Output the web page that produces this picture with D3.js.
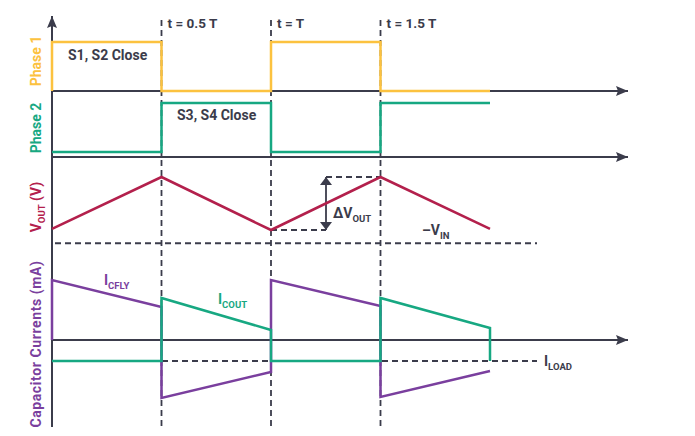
<!DOCTYPE html>
<html>
<head>
<meta charset="utf-8">
<script src="https://cdn.jsdelivr.net/npm/d3@7"></script>
<style>
  body { margin: 0; background: #fff; }
  text { font-family: Roboto, "Noto Sans", sans-serif; font-weight: bold; }
</style>
</head>
<body>
<div id="chart"></div>
<script>
// data (time in units of T)
var switchTimes = [0.5, 1, 1.5];
var switchLabels = ["t = 0.5 T", "t = T", "t = 1.5 T"];

var phase1 = [[0, 0], [0, 1], [0.5, 1], [0.5, 0], [1, 0], [1, 1], [1.5, 1], [1.5, 0], [2, 0]];
var phase2 = [[0, 0], [0.5, 0], [0.5, 1], [1, 1], [1, 0], [1.5, 0], [1.5, 1], [2, 1]];

// output voltage (relative units)
var vout = [[0, 0.02], [0.5, 1], [1, 0], [1.5, 1], [2, 0.02]];
var vinLevel = -0.25;

// capacitor currents (mA, relative)
var iCfly = [[0, 0], [0, 60], [0.5, 33], [0.5, -58], [1, -32], [1, 60], [1.5, 34], [1.5, -57], [2, -31]];
var iCout = [[0, -21], [0.5, -21], [0.5, 42], [1, 10], [1, -21], [1.5, -21], [1.5, 42], [2, 12], [2, -21]];
var iLoad = -21;

var svgWidth = 695;
var svgHeight = 436;

var svg = d3.select("#chart")
  .append("svg")
  .attr("width", svgWidth)
  .attr("height", svgHeight);

var dark = "#3b3c4b";
var yellow = "#fcc23f";
var green = "#17a882";
var red = "#b3204c";
var purple = "#7a3f9e";

// scales
var x = d3.scaleLinear().domain([0, 1]).range([52, 271]);
var yP1 = d3.scaleLinear().domain([0, 1]).range([91, 42]);
var yP2 = d3.scaleLinear().domain([0, 1]).range([152, 103]);
var yV = d3.scaleLinear().domain([0, 1]).range([230, 177]);
var yI = d3.scaleLinear().domain([-100, 100]).range([440, 240]);

var xEnd = x.invert(628);

var defs = svg.append("defs");
defs.append("marker")
  .attr("id", "arrow")
  .attr("viewBox", "0 0 12 10")
  .attr("refX", 12)
  .attr("refY", 5)
  .attr("markerWidth", 12)
  .attr("markerHeight", 10)
  .attr("markerUnits", "userSpaceOnUse")
  .attr("orient", "auto")
  .append("path")
  .attr("d", "M0,0 L12,5 L0,10 L2,5 Z")
  .attr("fill", dark);

// small arrows for delta V
defs.append("marker")
  .attr("id", "arrowS")
  .attr("viewBox", "0 0 8 12")
  .attr("refX", 8)
  .attr("refY", 6)
  .attr("markerWidth", 8)
  .attr("markerHeight", 12)
  .attr("markerUnits", "userSpaceOnUse")
  .attr("orient", "auto-start-reverse")
  .append("path")
  .attr("d", "M0,0 L8,6 L0,12 Z")
  .attr("fill", dark);

var line = function(ys) {
  return d3.line().x(d => x(d[0])).y(d => ys(d[1]));
};

var dash = "6,4";

// dashed switching lines
svg.selectAll(".tline")
  .data(switchTimes)
  .enter()
  .append("line")
  .attr("x1", d => x(d))
  .attr("x2", d => x(d))
  .attr("y1", 20)
  .attr("y2", 430)
  .attr("stroke", dark)
  .attr("stroke-width", 1.8)
  .attr("stroke-dasharray", dash);

svg.selectAll(".tlabel")
  .data(switchTimes)
  .enter()
  .append("text")
  .attr("x", d => x(d) + 6)
  .attr("y", 28)
  .attr("font-size", 13.5)
  .attr("fill", dark)
  .text((d, i) => switchLabels[i]);

// axes
svg.append("line")
  .attr("x1", x(0)).attr("x2", x(0))
  .attr("y1", 427).attr("y2", 16)
  .attr("stroke", dark).attr("stroke-width", 2)
  .attr("marker-end", "url(#arrow)");

[yP1(0), 157, yI(0)].forEach(function(yy) {
  svg.append("line")
    .attr("x1", x(0)).attr("x2", x(xEnd))
    .attr("y1", yy).attr("y2", yy)
    .attr("stroke", dark).attr("stroke-width", 2)
    .attr("marker-end", "url(#arrow)");
});

// reference dashed lines
svg.append("line")
  .attr("x1", 55).attr("x2", 537)
  .attr("y1", yV(vinLevel)).attr("y2", yV(vinLevel))
  .attr("stroke", dark).attr("stroke-width", 1.8)
  .attr("stroke-dasharray", dash);

svg.append("line")
  .attr("x1", x(0)).attr("x2", 537)
  .attr("y1", yI(iLoad)).attr("y2", yI(iLoad))
  .attr("stroke", dark).attr("stroke-width", 1.8)
  .attr("stroke-dasharray", dash);

// delta V marks
var xDv = 326;
svg.append("line")
  .attr("x1", x(1)).attr("x2", xDv)
  .attr("y1", yV(0)).attr("y2", yV(0))
  .attr("stroke", dark).attr("stroke-width", 1.8)
  .attr("stroke-dasharray", dash);
svg.append("line")
  .attr("x1", xDv).attr("x2", x(1.5))
  .attr("y1", yV(1)).attr("y2", yV(1))
  .attr("stroke", dark).attr("stroke-width", 1.8)
  .attr("stroke-dasharray", dash);
svg.append("line")
  .attr("x1", xDv).attr("x2", xDv)
  .attr("y1", yV(0)).attr("y2", yV(1))
  .attr("stroke", dark).attr("stroke-width", 1.8)
  .attr("marker-start", "url(#arrowS)")
  .attr("marker-end", "url(#arrowS)");

// waveforms
svg.append("path").datum(phase1)
  .attr("d", line(yP1))
  .attr("fill", "none").attr("stroke", yellow).attr("stroke-width", 2.5);

svg.append("path").datum(phase2)
  .attr("d", line(yP2))
  .attr("fill", "none").attr("stroke", green).attr("stroke-width", 2.5);

svg.append("path").datum(vout)
  .attr("d", line(yV))
  .attr("fill", "none").attr("stroke", red).attr("stroke-width", 2.5);

svg.append("path").datum(iCfly)
  .attr("d", line(yI))
  .attr("fill", "none").attr("stroke", purple).attr("stroke-width", 2.5);

svg.append("path").datum(iCout)
  .attr("d", line(yI))
  .attr("fill", "none").attr("stroke", green).attr("stroke-width", 2.5);

// text labels
svg.append("text").attr("x", 68).attr("y", 60)
  .attr("font-size", 14).attr("fill", dark).text("S1, S2 Close");
svg.append("text").attr("x", 177).attr("y", 120)
  .attr("font-size", 14).attr("fill", dark).text("S3, S4 Close");

function subLabel(px, py, main, sub, color, size) {
  var t = svg.append("text").attr("x", px).attr("y", py)
    .attr("font-size", size).attr("fill", color);
  t.append("tspan").text(main);
  t.append("tspan").attr("dy", 4).attr("font-size", size * 0.68).text(sub);
  return t;
}

subLabel(333, 218, "\u0394V", "OUT", dark, 14);
subLabel(422, 235, "\u2013V", "IN", dark, 14);
subLabel(104, 285, "I", "CFLY", purple, 14);
subLabel(218, 304, "I", "COUT", green, 14);
subLabel(544, 366, "I", "LOAD", dark, 14);

// rotated panel labels
function yLabel(cy, color, size, build) {
  var t = svg.append("text")
    .attr("transform", `translate(41, ${cy}) rotate(-90)`)
    .attr("text-anchor", "middle")
    .attr("font-size", size)
    .attr("fill", color);
  build(t);
}

yLabel(61, yellow, 14, t => t.text("Phase 1"));
yLabel(128, green, 14, t => t.text("Phase 2"));
yLabel(207, red, 14, function(t) {
  t.append("tspan").text("V");
  t.append("tspan").attr("dy", 4).attr("font-size", 9.5).text("OUT");
  t.append("tspan").attr("dy", -4).text(" (V)");
});
yLabel(344, purple, 14, t => t.text("Capacitor Currents (mA)")
  .attr("letter-spacing", 0.6));
</script>
</body>
</html>
